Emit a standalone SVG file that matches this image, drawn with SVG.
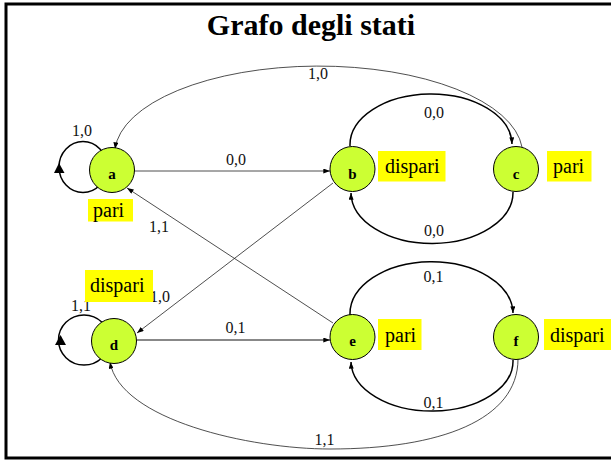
<svg xmlns="http://www.w3.org/2000/svg" width="611" height="461" viewBox="0 0 611 461">
<style>
.frame{fill:#fff;stroke:#000;stroke-width:3}
.title{font-family:"Liberation Serif",serif;font-weight:bold;font-size:30px;text-anchor:middle}
.thin{fill:none;stroke:#222;stroke-width:0.8}
.thick{fill:none;stroke:#000;stroke-width:1.5}
.gray{fill:none;stroke:#888;stroke-width:1.8}
.elab{font-family:"Liberation Serif",serif;font-size:16px;text-anchor:middle;fill:#111}
.node circle{fill:#ccff33;stroke:#000;stroke-width:1}
.node text{font-family:"Liberation Serif",serif;font-weight:bold;font-size:15px;text-anchor:middle}
.tag rect{fill:#ffff00}
.tag text{font-family:"Liberation Serif",serif;font-size:20px;fill:#000}
</style>
<defs>
<marker id="ah" viewBox="0 0 8 6" refX="8" refY="3" markerWidth="7" markerHeight="5" markerUnits="userSpaceOnUse" orient="auto">
<path d="M0,0 L8,3 L0,6 z" fill="#000"/>
</marker>
</defs>
<rect class="frame" x="6" y="4" width="615" height="454"/>
<text class="title" x="311" y="35">Grafo degli stati</text>
<g id="connectors">
<ellipse class="thick" cx="83" cy="167" rx="24" ry="25.5"/>
<polygon points="59,163 54,173 64.5,173" fill="#000"/>
<ellipse class="thick" cx="84" cy="340" rx="25.5" ry="25"/>
<polygon points="60.5,335 55,345 66,345" fill="#000"/>
<line class="thin" x1="134" y1="171" x2="330" y2="171" marker-end="url(#ah)"/>
<line class="thin" x1="333" y1="323" x2="127" y2="188" marker-end="url(#ah)"/>
<line class="thin" x1="333" y1="183" x2="137" y2="333" marker-end="url(#ah)"/>
<line class="gray" x1="137" y1="340" x2="330" y2="340" marker-end="url(#ah)"/>
<path class="thick" d="M350,146 A81,51 0 0 1 512,144" marker-end="url(#ah)"/>
<path class="thick" d="M513,192 A81,51 0 0 1 351,193" marker-end="url(#ah)"/>
<path class="thick" d="M350,315 A81,52 0 0 1 513,313" marker-end="url(#ah)"/>
<path class="thick" d="M513,360 A81,50 0 0 1 351,362" marker-end="url(#ah)"/>
<path class="thin" d="M522,147 A204,88 0 0 0 115,149" marker-end="url(#ah)"/>
<path class="thin" d="M518,359 C518,420 440,449 330,449 C250,449 120,420 110,362" marker-end="url(#ah)"/>
<text class="elab" x="236" y="165">0,0</text>
<text class="elab" x="159" y="231.5">1,1</text>
<text class="elab" x="160" y="301.5">1,0</text>
<text class="elab" x="235.5" y="332.5">0,1</text>
<text class="elab" x="82" y="136">1,0</text>
<text class="elab" x="81" y="310.5">1,1</text>
<text class="elab" x="318" y="79">1,0</text>
<text class="elab" x="434" y="118">0,0</text>
<text class="elab" x="434" y="235.5">0,0</text>
<text class="elab" x="433.5" y="281.5">0,1</text>
<text class="elab" x="433.5" y="408">0,1</text>
<text class="elab" x="324.5" y="445">1,1</text>
</g>
<g id="node-a" class="node"><circle cx="112" cy="170" r="22.5"/><text x="112" y="178.5">a</text></g>
<g id="node-b" class="node"><circle cx="352.5" cy="169" r="22.5"/><text x="352.5" y="178.5">b</text></g>
<g id="node-c" class="node"><circle cx="516" cy="169" r="22.5"/><text x="516" y="178.5">c</text></g>
<g id="node-d" class="node"><circle cx="114" cy="341" r="22.5"/><text x="114" y="350">d</text></g>
<g id="node-e" class="node"><circle cx="352.5" cy="337" r="22.5"/><text x="352.5" y="346">e</text></g>
<g id="node-f" class="node"><circle cx="516" cy="337" r="22.5"/><text x="516" y="346">f</text></g>
<g id="tag-a" class="tag"><rect x="88" y="199" width="45" height="22.5"/><text x="93" y="216.5">pari</text></g>
<g id="tag-b" class="tag"><rect x="378" y="151" width="67.5" height="30.5"/><text x="385" y="173">dispari</text></g>
<g id="tag-c" class="tag"><rect x="547" y="151" width="44.5" height="30.5"/><text x="553" y="173">pari</text></g>
<g id="tag-d" class="tag"><rect x="85" y="270" width="68" height="32"/><text x="90" y="291.5">dispari</text></g>
<g id="tag-e" class="tag"><rect x="378" y="319" width="43.5" height="31"/><text x="385" y="341.5">pari</text></g>
<g id="tag-f" class="tag"><rect x="544" y="319" width="67" height="31"/><text x="550" y="341.5">dispari</text></g>
</svg>
